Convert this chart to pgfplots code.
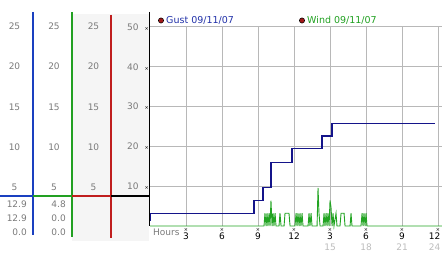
\documentclass[border=0pt]{standalone}
\usepackage{pgfplots}
\pgfplotsset{compat=1.18}
\usepackage{fontspec}
\setmainfont{DejaVu Sans}
\definecolor{gustc}{HTML}{14148A}
\definecolor{windc}{HTML}{22A422}
\definecolor{lblue}{HTML}{1A40C0}
\definecolor{lgreen}{HTML}{22A022}
\definecolor{lred}{HTML}{C01E1E}
\definecolor{bgg}{HTML}{F5F5F5}
\definecolor{gridc}{HTML}{B8B8B8}
\definecolor{lbl}{HTML}{7A7A7A}
\definecolor{leggust}{HTML}{2030A8}
\definecolor{legwind}{HTML}{20A020}
\newcommand\crs{{\fontsize{5}{5}\selectfont\color{black}×}}
\begin{document}
\begin{tikzpicture}[font=\fontsize{9}{10}\selectfont]
\path[use as bounding box] (0pt,0pt) rectangle (442pt,-253pt);
\fill[bgg] (72pt,-14pt) rectangle (149pt,-241pt);
\begin{axis}[
  at={(150pt,-226pt)}, anchor=south west, scale only axis,
  width=292pt, height=199pt,
  xmin=0, xmax=24.33, ymin=0, ymax=25,
  axis line style={draw=none},
  grid=major, major grid style={gridc, line width=1pt},
  major tick style={draw=none},
  xtick={3,6,...,24}, ytick={5,10,...,25},
  yticklabels={{10\hspace{6pt}\crs},{20\hspace{6pt}\crs},{30\hspace{6pt}\crs},{40\hspace{6pt}\crs},{50\hspace{6pt}\crs}},
  yticklabel style={anchor=east, inner sep=0pt, xshift=-1pt, text=lbl},
  xticklabels={{\crs\\[-1pt]3},{\crs\\[-1pt]6},{\crs\\[-1pt]9},{\crs\\[-1pt]12},
    {\crs\\[-1pt]3\\[2pt]\textcolor{lbl!50}{15}},{\crs\\[-1pt]6\\[2pt]\textcolor{lbl!50}{18}},
    {\crs\\[-1pt]9\\[2pt]\textcolor{lbl!50}{21}},{\crs\\[-1pt]\hspace*{-7pt}12\\[2pt]\hspace*{-7pt}\textcolor{lbl!50}{24}}},
  xticklabel style={anchor=north, inner sep=0pt, yshift=-2pt, align=center, font=\fontsize{9}{9}\selectfont},
  clip=false,
]
\addplot[windc, line width=0.9pt] coordinates {
(0,0)(9.5,0)(9.58,1.6)(9.67,0)(9.75,1.6)(9.83,0)(9.92,1.6)(10.0,0)(10.08,3.2)(10.17,0)
(10.25,1.6)(10.33,0)(10.42,1.6)(10.5,0)(10.75,0)(10.83,1.6)(10.92,0)(11.17,0)(11.25,1.6)
(11.58,1.6)(11.67,0)(12.08,0)(12.17,1.6)(12.25,0)(12.33,1.6)(12.42,0)(12.5,1.6)(12.58,0)
(12.67,1.6)(12.75,0)(13.17,0)(13.25,1.6)(13.33,0)(13.42,1.6)(13.5,0)(13.92,0)(14.0,4.8)
(14.08,1.6)(14.17,0)(14.42,0)(14.5,1.6)(14.58,0)(14.67,1.6)(14.75,0)(14.83,1.6)(14.92,0)
(15.0,3.2)(15.08,2.4)(15.17,0)(15.25,1.6)(15.33,0)(15.5,1.6)(15.58,0)(15.83,0)(15.92,1.6)
(16.17,1.6)(16.25,0)(16.67,0)(16.75,1.6)(16.83,0)(17.58,0)(17.67,1.6)(17.75,0)(17.83,1.6)
(17.92,0)(18.0,1.6)(18.08,0)(24.33,0)};
\addplot[gustc, line width=1.3pt, const plot] coordinates {
(0,0.75)(0.02,1.6)(8.67,3.2)(9.42,4.8)(10.08,8.0)(11.83,9.7)(14.33,11.3)(15.17,12.9)(23.75,12.9)};
\end{axis}
% left panel
\draw[black, line width=1.4pt] (149.5pt,-12pt) -- (149.5pt,-226.5pt);
\draw[lblue, line width=1.3pt] (33pt,-12pt) -- (33pt,-235pt);
\draw[lgreen, line width=1.3pt] (72pt,-12pt) -- (72pt,-237pt);
\draw[lred, line width=1.3pt] (111pt,-15pt) -- (111pt,-238pt);
\draw[lblue, line width=2.5pt] (0pt,-196pt) -- (33pt,-196pt);
\draw[lgreen, line width=2.5pt] (33pt,-196pt) -- (72pt,-196pt);
\draw[lred, line width=2.5pt] (72pt,-196pt) -- (111pt,-196pt);
\draw[black, line width=2.5pt] (111pt,-196pt) -- (149pt,-196pt);
\foreach \v/\y in {25/26,20/66,15/107,10/147,5/187}{
  \node[text=lbl, inner sep=0pt] at (14.5pt,-\y pt) {\v};
  \node[text=lbl, inner sep=0pt] at (54pt,-\y pt) {\v};
  \node[text=lbl, inner sep=0pt] at (93.5pt,-\y pt) {\v};
}
\node[text=lbl, inner sep=0pt, anchor=east] at (27pt,-204pt) {12.9};
\node[text=lbl, inner sep=0pt, anchor=east] at (27pt,-218pt) {12.9};
\node[text=lbl, inner sep=0pt, anchor=east] at (27pt,-232pt) {0.0};
\node[text=lbl, inner sep=0pt, anchor=east] at (66pt,-204pt) {4.8};
\node[text=lbl, inner sep=0pt, anchor=east] at (66pt,-218pt) {0.0};
\node[text=lbl, inner sep=0pt, anchor=east] at (66pt,-232pt) {0.0};
\node[text=lbl, inner sep=0pt, anchor=west] at (153pt,-232pt) {Hours};
% legend
\filldraw[fill=lred!85!black, draw=black, line width=0.5pt] (161pt,-20.5pt) circle (2.6pt);
\node[text=leggust, inner sep=0pt, anchor=west, font=\fontsize{9.5}{10}\selectfont] at (166pt,-20.5pt) {Gust 09/11/07};
\filldraw[fill=lred!85!black, draw=black, line width=0.5pt] (302pt,-20.5pt) circle (2.6pt);
\node[text=legwind, inner sep=0pt, anchor=west, font=\fontsize{9.5}{10}\selectfont] at (307pt,-20.5pt) {Wind 09/11/07};
\end{tikzpicture}
\end{document}
